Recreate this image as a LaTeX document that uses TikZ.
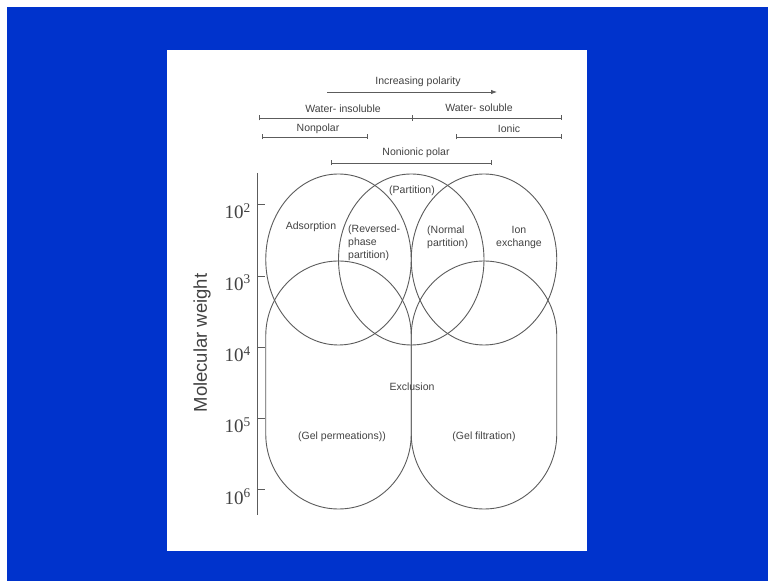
\documentclass[tikz,border=0pt]{standalone}
\usepackage{fontspec}
\setmainfont{Liberation Serif}
\setsansfont{Liberation Sans}
\usetikzlibrary{arrows.meta}
\definecolor{fond}{RGB}{0,51,204}
\definecolor{trait}{gray}{0.36}
\definecolor{texte}{gray}{0.26}
\tikzset{
  lbl/.style={font=\sffamily\fontsize{10.5}{13}\selectfont, text=texte, inner sep=1pt},
  borne/.style={draw=trait, line width=0.8pt, {Bar[width=5pt]}-{Bar[width=5pt]}},
  zone/.style={draw=trait, line width=0.9pt}
}
\begin{document}
\begin{tikzpicture}[x=1pt,y=1pt]
      \useasboundingbox (0,0) rectangle (768,581);
      % Fond bleu et feuille blanche
      \fill[fond] (7,0) rectangle (768,574);
      \fill[white] (167,30) rectangle (587,531);
      % Barres de polarité
      \coordinate (pa) at (327,489); \coordinate (pb) at (497,489);
      \draw[draw=trait, line width=0.8pt, -{Latex[length=6pt,width=4.5pt]}] (pa) -- (pb);
      \node[lbl] (polar) at (418,499) {Increasing polarity};
      \coordinate (wl) at (259,463); \coordinate (wm) at (412,463); \coordinate (wr) at (562,463);
      \draw[borne] (wl) -- (wr);
      \draw[draw=trait, line width=0.8pt] ([yshift=-3pt]wm) -- ([yshift=3pt]wm);
      \node[lbl] (insol) at (343,472) {Water- insoluble};
      \node[lbl] (sol) at (479,473) {Water- soluble};
      \coordinate (nl) at (262,444); \coordinate (nr) at (368,444);
      \draw[borne] (nl) -- (nr);
      \node[lbl] (nonpol) at (318,452) {Nonpolar};
      \coordinate (il) at (456,444); \coordinate (ir) at (562,444);
      \draw[borne] (il) -- (ir);
      \node[lbl] (ionic) at (509,452) {Ionic};
      \coordinate (ol) at (331,418); \coordinate (or) at (492,418);
      \draw[borne] (ol) -- (or);
      \node[lbl] (nonion) at (416,428) {Nonionic polar};
      % Axe des masses moléculaires
      \coordinate (ah) at (257,408); \coordinate (ab) at (257,66);
      \draw[draw=trait, line width=1pt] (ah) -- (ab);
      \foreach \i in {2,...,6} {
        \draw[draw=trait, line width=1pt] (257,{376-(\i-2)*71.25}) -- (265,{376-(\i-2)*71.25});
        \node[anchor=base east, inner sep=0pt, text=texte, font=\fontsize{19}{20}\selectfont]
          (mw\i) at (251,{362-(\i-2)*71.25}) {10\textsuperscript{\i}};
      }
      \node[lbl, font=\sffamily\fontsize{18.5}{20}\selectfont, rotate=90] (mw) at (202,238) {Molecular weight};
      % Ellipses du haut
      \foreach \cx in {338.5,411.25,484} {
        \draw[zone] (\cx,321.5) ellipse [x radius=72.75, y radius=85.5];
      }
      % Zones d'exclusion (bas)
      \foreach \cx in {338.5,484} {
        \begin{scope}[shift={(\cx,0)}]
          \draw[zone] (-72.75,147) -- (-72.75,245)
            arc[start angle=180, end angle=0, x radius=72.75, y radius=75]
            -- (72.75,147)
            arc[start angle=0, end angle=-180, x radius=72.75, y radius=75] -- cycle;
        \end{scope}
      }
      % Étiquettes
      \node[lbl] (part) at (412,390) {(Partition)};
      \node[lbl] (ads) at (311,354) {Adsorption};
      \node[lbl, anchor=west, align=left] (rev) at (347,338.5) {(Reversed-\\phase\\partition)};
      \node[lbl, anchor=west, align=left] (norm) at (426,344) {(Normal\\partition)};
      \node[lbl, align=center] (ion) at (519,344) {Ion\\exchange};
      \node[lbl] (excl) at (412,194) {Exclusion};
      \node[lbl] (gperm) at (342,144) {(Gel permeations))};
      \node[lbl] (gfilt) at (484,144) {(Gel filtration)};
    \end{tikzpicture}
\end{document}
